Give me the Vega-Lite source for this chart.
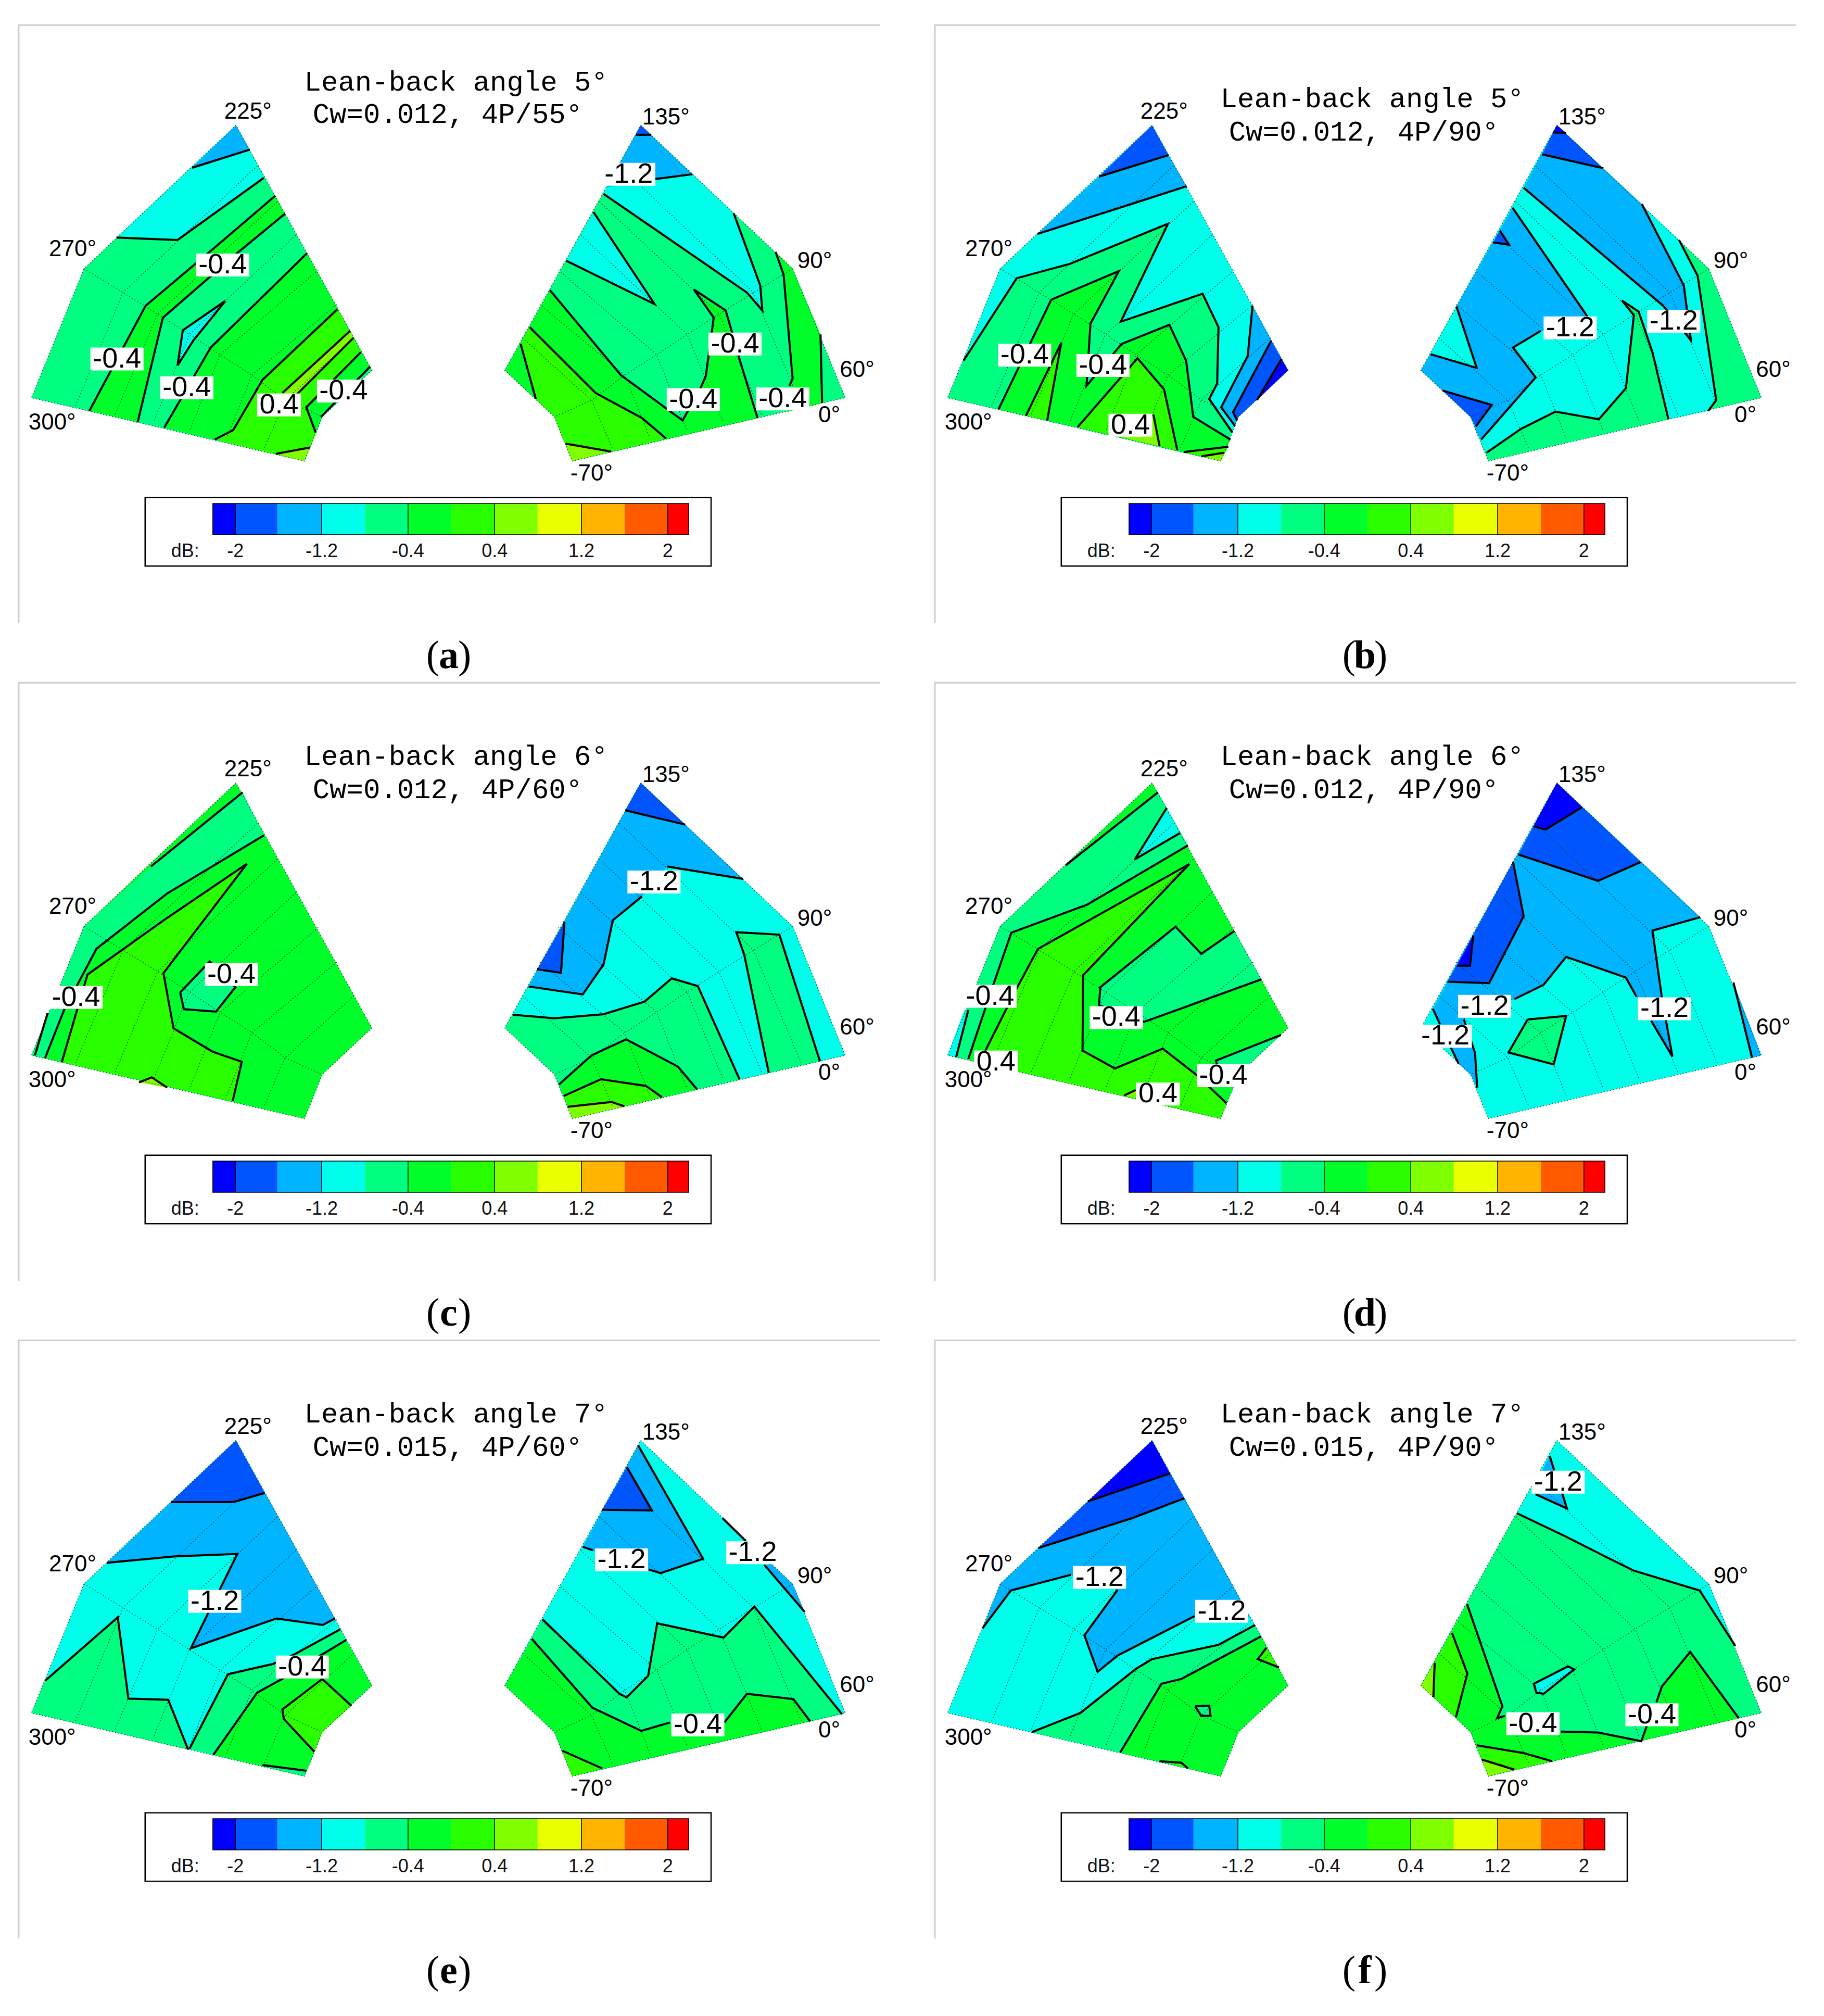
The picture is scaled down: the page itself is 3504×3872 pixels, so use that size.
{"$schema":"https://vega.github.io/schema/vega-lite/v6.json","padding":{"left":28,"top":22,"right":0,"bottom":0},"bounds":"flush","columns":2,"spacing":{"row":0,"column":60},"background":"white","config":{"view":{"stroke":null}},
"data":{"values":[
{"panel":"a","part":"a0","band":"-0.6","x":810,"y":110},{"panel":"a","part":"a0","band":"-0.6","x":238,"y":710},{"panel":"a","part":"a0","band":"-0.6","x":40,"y":1250},{"panel":"a","part":"a0","band":"-0.6","x":1068,"y":1515},{"panel":"a","part":"a0","band":"-0.6","x":1112,"y":1395},{"panel":"a","part":"a0","band":"-0.6","x":1135,"y":1330},{"panel":"a","part":"a0","band":"-0.6","x":1322,"y":1135},
{"panel":"a","part":"a1","band":"-1","x":810,"y":110},{"panel":"a","part":"a1","band":"-1","x":360,"y":580},{"panel":"a","part":"a1","band":"-1","x":590,"y":590},{"panel":"a","part":"a1","band":"-1","x":915,"y":330},
{"panel":"a","part":"a2","band":"-1.4","x":810,"y":110},{"panel":"a","part":"a2","band":"-1.4","x":645,"y":288},{"panel":"a","part":"a2","band":"-1.4","x":862,"y":212},
{"panel":"a","part":"a3","band":"-0.2","x":958,"y":405},{"panel":"a","part":"a3","band":"-0.2","x":700,"y":650},{"panel":"a","part":"a3","band":"-0.2","x":470,"y":865},{"panel":"a","part":"a3","band":"-0.2","x":258,"y":1305},{"panel":"a","part":"a3","band":"-0.2","x":440,"y":1352},{"panel":"a","part":"a3","band":"-0.2","x":535,"y":915},{"panel":"a","part":"a3","band":"-0.2","x":995,"y":480},
{"panel":"a","part":"a4","band":"-1","x":770,"y":845},{"panel":"a","part":"a4","band":"-1","x":610,"y":968},{"panel":"a","part":"a4","band":"-1","x":590,"y":1115},{"panel":"a","part":"a4","band":"-1","x":650,"y":1010},
{"panel":"a","part":"a5","band":"-0.2","x":1078,"y":645},{"panel":"a","part":"a5","band":"-0.2","x":715,"y":1040},{"panel":"a","part":"a5","band":"-0.2","x":540,"y":1375},{"panel":"a","part":"a5","band":"-0.2","x":1068,"y":1515},{"panel":"a","part":"a5","band":"-0.2","x":1112,"y":1395},{"panel":"a","part":"a5","band":"-0.2","x":1135,"y":1330},{"panel":"a","part":"a5","band":"-0.2","x":1322,"y":1135},
{"panel":"a","part":"a6","band":"0.2","x":1192,"y":880},{"panel":"a","part":"a6","band":"0.2","x":910,"y":1175},{"panel":"a","part":"a6","band":"0.2","x":800,"y":1385},{"panel":"a","part":"a6","band":"0.2","x":730,"y":1425},{"panel":"a","part":"a6","band":"0.2","x":1068,"y":1515},{"panel":"a","part":"a6","band":"0.2","x":1112,"y":1395},{"panel":"a","part":"a6","band":"0.2","x":1075,"y":1290},{"panel":"a","part":"a6","band":"0.2","x":1280,"y":1060},
{"panel":"a","part":"a7","band":"0.6","x":1240,"y":970},{"panel":"a","part":"a7","band":"0.6","x":985,"y":1230},{"panel":"a","part":"a7","band":"0.6","x":1040,"y":1235},{"panel":"a","part":"a7","band":"0.6","x":1252,"y":1000},
{"panel":"a","part":"a8","band":"0.6","x":960,"y":1485},{"panel":"a","part":"a8","band":"0.6","x":1088,"y":1458},{"panel":"a","part":"a8","band":"0.6","x":1068,"y":1515},
{"panel":"a","part":"a9","band":"-0.6","x":1315,"y":1120},{"panel":"a","part":"a9","band":"-0.6","x":1322,"y":1135},{"panel":"a","part":"a9","band":"-0.6","x":1135,"y":1330},{"panel":"a","part":"a9","band":"-0.6","x":1130,"y":1320},
{"panel":"a","part":"a10","band":"-0.6","x":2334,"y":110},{"panel":"a","part":"a10","band":"-0.6","x":2906,"y":710},{"panel":"a","part":"a10","band":"-0.6","x":3104,"y":1250},{"panel":"a","part":"a10","band":"-0.6","x":2076,"y":1515},{"panel":"a","part":"a10","band":"-0.6","x":2032,"y":1395},{"panel":"a","part":"a10","band":"-0.6","x":2009,"y":1330},{"panel":"a","part":"a10","band":"-0.6","x":1822,"y":1135},
{"panel":"a","part":"a11","band":"-1","x":2194,"y":397},{"panel":"a","part":"a11","band":"-1","x":2734,"y":810},{"panel":"a","part":"a11","band":"-1","x":2792,"y":885},{"panel":"a","part":"a11","band":"-1","x":2784,"y":780},{"panel":"a","part":"a11","band":"-1","x":2684,"y":478},{"panel":"a","part":"a11","band":"-1","x":2529,"y":315},{"panel":"a","part":"a11","band":"-1","x":2389,"y":335},{"panel":"a","part":"a11","band":"-1","x":2204,"y":370},
{"panel":"a","part":"a12","band":"-1","x":2156,"y":473},{"panel":"a","part":"a12","band":"-1","x":2386,"y":858},{"panel":"a","part":"a12","band":"-1","x":2054,"y":677},
{"panel":"a","part":"a13","band":"-1.4","x":2334,"y":110},{"panel":"a","part":"a13","band":"-1.4","x":2204,"y":370},{"panel":"a","part":"a13","band":"-1.4","x":2389,"y":335},{"panel":"a","part":"a13","band":"-1.4","x":2529,"y":315},
{"panel":"a","part":"a14","band":"-1.8","x":2334,"y":110},{"panel":"a","part":"a14","band":"-1.8","x":2316,"y":148},{"panel":"a","part":"a14","band":"-1.8","x":2374,"y":150},
{"panel":"a","part":"a15","band":"-0.2","x":1992,"y":800},{"panel":"a","part":"a15","band":"-0.2","x":2259,"y":1155},{"panel":"a","part":"a15","band":"-0.2","x":2492,"y":1345},{"panel":"a","part":"a15","band":"-0.2","x":2559,"y":1210},{"panel":"a","part":"a15","band":"-0.2","x":2579,"y":1160},{"panel":"a","part":"a15","band":"-0.2","x":2609,"y":915},{"panel":"a","part":"a15","band":"-0.2","x":2534,"y":797},{"panel":"a","part":"a15","band":"-0.2","x":2654,"y":885},{"panel":"a","part":"a15","band":"-0.2","x":2679,"y":980},{"panel":"a","part":"a15","band":"-0.2","x":2709,"y":1100},{"panel":"a","part":"a15","band":"-0.2","x":2774,"y":1335},{"panel":"a","part":"a15","band":"-0.2","x":2076,"y":1515},{"panel":"a","part":"a15","band":"-0.2","x":2032,"y":1395},{"panel":"a","part":"a15","band":"-0.2","x":2009,"y":1330},{"panel":"a","part":"a15","band":"-0.2","x":1822,"y":1135},
{"panel":"a","part":"a16","band":"0.2","x":1916,"y":955},{"panel":"a","part":"a16","band":"0.2","x":2164,"y":1230},{"panel":"a","part":"a16","band":"0.2","x":2339,"y":1335},{"panel":"a","part":"a16","band":"0.2","x":2429,"y":1420},{"panel":"a","part":"a16","band":"0.2","x":2076,"y":1515},{"panel":"a","part":"a16","band":"0.2","x":2032,"y":1395},{"panel":"a","part":"a16","band":"0.2","x":2009,"y":1330},{"panel":"a","part":"a16","band":"0.2","x":1939,"y":1255},{"panel":"a","part":"a16","band":"0.2","x":1882,"y":1025},
{"panel":"a","part":"a17","band":"0.6","x":2051,"y":1442},{"panel":"a","part":"a17","band":"0.6","x":2222,"y":1475},{"panel":"a","part":"a17","band":"0.6","x":2076,"y":1515},
{"panel":"a","part":"a18","band":"-0.2","x":2842,"y":640},{"panel":"a","part":"a18","band":"-0.2","x":2872,"y":735},{"panel":"a","part":"a18","band":"-0.2","x":2906,"y":1170},{"panel":"a","part":"a18","band":"-0.2","x":2894,"y":1200},{"panel":"a","part":"a18","band":"-0.2","x":2884,"y":1310},{"panel":"a","part":"a18","band":"-0.2","x":3017,"y":1272},{"panel":"a","part":"a18","band":"-0.2","x":3011,"y":985},{"panel":"a","part":"a18","band":"-0.2","x":2906,"y":710},
{"panel":"a","line":"1","x":645,"y":288},{"panel":"a","line":"1","x":862,"y":212},
{"panel":"a","line":"2","x":360,"y":580},{"panel":"a","line":"2","x":590,"y":590},{"panel":"a","line":"2","x":915,"y":330},
{"panel":"a","line":"3","x":958,"y":405},{"panel":"a","line":"3","x":700,"y":650},{"panel":"a","line":"3","x":470,"y":865},{"panel":"a","line":"3","x":258,"y":1305},
{"panel":"a","line":"4","x":995,"y":480},{"panel":"a","line":"4","x":820,"y":640},{"panel":"a","line":"4","x":535,"y":915},{"panel":"a","line":"4","x":440,"y":1352},
{"panel":"a","line":"5","x":770,"y":845},{"panel":"a","line":"5","x":610,"y":968},{"panel":"a","line":"5","x":590,"y":1115},{"panel":"a","line":"5","x":650,"y":1010},{"panel":"a","line":"5","x":770,"y":845},
{"panel":"a","line":"6","x":1078,"y":645},{"panel":"a","line":"6","x":715,"y":1040},{"panel":"a","line":"6","x":540,"y":1375},
{"panel":"a","line":"7","x":1192,"y":880},{"panel":"a","line":"7","x":910,"y":1175},{"panel":"a","line":"7","x":800,"y":1385},{"panel":"a","line":"7","x":730,"y":1425},
{"panel":"a","line":"8","x":1240,"y":970},{"panel":"a","line":"8","x":985,"y":1230},
{"panel":"a","line":"9","x":1252,"y":1000},{"panel":"a","line":"9","x":1040,"y":1235},
{"panel":"a","line":"10","x":1280,"y":1060},{"panel":"a","line":"10","x":1075,"y":1290},{"panel":"a","line":"10","x":1110,"y":1395},
{"panel":"a","line":"11","x":1315,"y":1120},{"panel":"a","line":"11","x":1130,"y":1330},
{"panel":"a","line":"12","x":960,"y":1485},{"panel":"a","line":"12","x":1088,"y":1458},
{"panel":"a","line":"13","x":2316,"y":150},{"panel":"a","line":"13","x":2374,"y":150},
{"panel":"a","line":"14","x":2389,"y":335},{"panel":"a","line":"14","x":2529,"y":315},
{"panel":"a","line":"15","x":2194,"y":397},{"panel":"a","line":"15","x":2734,"y":810},{"panel":"a","line":"15","x":2792,"y":885},{"panel":"a","line":"15","x":2784,"y":780},{"panel":"a","line":"15","x":2684,"y":478},
{"panel":"a","line":"16","x":2156,"y":473},{"panel":"a","line":"16","x":2386,"y":858},{"panel":"a","line":"16","x":2054,"y":677},
{"panel":"a","line":"17","x":1992,"y":800},{"panel":"a","line":"17","x":2259,"y":1155},{"panel":"a","line":"17","x":2492,"y":1345},{"panel":"a","line":"17","x":2559,"y":1210},{"panel":"a","line":"17","x":2579,"y":1160},{"panel":"a","line":"17","x":2609,"y":915},{"panel":"a","line":"17","x":2534,"y":797},{"panel":"a","line":"17","x":2654,"y":885},{"panel":"a","line":"17","x":2679,"y":980},{"panel":"a","line":"17","x":2709,"y":1100},{"panel":"a","line":"17","x":2774,"y":1335},
{"panel":"a","line":"18","x":1916,"y":955},{"panel":"a","line":"18","x":2164,"y":1230},{"panel":"a","line":"18","x":2339,"y":1335},{"panel":"a","line":"18","x":2429,"y":1420},
{"panel":"a","line":"19","x":1882,"y":1025},{"panel":"a","line":"19","x":1939,"y":1255},
{"panel":"a","line":"20","x":2051,"y":1442},{"panel":"a","line":"20","x":2222,"y":1475},
{"panel":"a","line":"21","x":2842,"y":640},{"panel":"a","line":"21","x":2872,"y":735},{"panel":"a","line":"21","x":2906,"y":1170},{"panel":"a","line":"21","x":2894,"y":1200},
{"panel":"a","line":"22","x":3011,"y":985},{"panel":"a","line":"22","x":3017,"y":1272},
{"panel":"a","label":"-0.4","x":760,"y":695},{"panel":"a","label":"-0.4","x":362,"y":1088},{"panel":"a","label":"-0.4","x":625,"y":1208},{"panel":"a","label":"0.4","x":972,"y":1280},{"panel":"a","label":"-0.4","x":1215,"y":1222},{"panel":"a","label":"-1.2","x":2289,"y":315},{"panel":"a","label":"-0.4","x":2689,"y":1025},{"panel":"a","label":"-0.4","x":2532,"y":1258},{"panel":"a","label":"-0.4","x":2869,"y":1255},
{"panel":"a","title":"Lean-back angle 5°","x":1639,"y":-70},{"panel":"a","title":"Cw=0.012, 4P/55°","x":1607,"y":65},{"panel":"a","caption":"a","x":1611,"y":2330},

{"panel":"b","part":"b0","band":"-1","x":810,"y":110},{"panel":"b","part":"b0","band":"-1","x":238,"y":710},{"panel":"b","part":"b0","band":"-1","x":40,"y":1250},{"panel":"b","part":"b0","band":"-1","x":1068,"y":1515},{"panel":"b","part":"b0","band":"-1","x":1112,"y":1395},{"panel":"b","part":"b0","band":"-1","x":1135,"y":1330},{"panel":"b","part":"b0","band":"-1","x":1322,"y":1135},
{"panel":"b","part":"b1","band":"-1.4","x":610,"y":325},{"panel":"b","part":"b1","band":"-1.4","x":378,"y":565},{"panel":"b","part":"b1","band":"-1.4","x":745,"y":435},{"panel":"b","part":"b1","band":"-1.4","x":940,"y":365},{"panel":"b","part":"b1","band":"-1.4","x":872,"y":235},
{"panel":"b","part":"b2","band":"-1.8","x":810,"y":110},{"panel":"b","part":"b2","band":"-1.8","x":610,"y":325},{"panel":"b","part":"b2","band":"-1.8","x":872,"y":235},
{"panel":"b","part":"b3","band":"-0.6","x":100,"y":1095},{"panel":"b","part":"b3","band":"-0.6","x":300,"y":750},{"panel":"b","part":"b3","band":"-0.6","x":500,"y":690},{"panel":"b","part":"b3","band":"-0.6","x":870,"y":522},{"panel":"b","part":"b3","band":"-0.6","x":692,"y":932},{"panel":"b","part":"b3","band":"-0.6","x":1000,"y":815},{"panel":"b","part":"b3","band":"-0.6","x":1060,"y":955},{"panel":"b","part":"b3","band":"-0.6","x":1055,"y":1190},{"panel":"b","part":"b3","band":"-0.6","x":1025,"y":1255},{"panel":"b","part":"b3","band":"-0.6","x":1112,"y":1395},{"panel":"b","part":"b3","band":"-0.6","x":1068,"y":1515},{"panel":"b","part":"b3","band":"-0.6","x":40,"y":1250},
{"panel":"b","part":"b4","band":"-1.4","x":1188,"y":865},{"panel":"b","part":"b4","band":"-1.4","x":1170,"y":1075},{"panel":"b","part":"b4","band":"-1.4","x":1070,"y":1290},{"panel":"b","part":"b4","band":"-1.4","x":1122,"y":1368},{"panel":"b","part":"b4","band":"-1.4","x":1135,"y":1330},{"panel":"b","part":"b4","band":"-1.4","x":1322,"y":1135},
{"panel":"b","part":"b5","band":"-1.8","x":1258,"y":1012},{"panel":"b","part":"b5","band":"-1.8","x":1115,"y":1310},{"panel":"b","part":"b5","band":"-1.8","x":1130,"y":1345},{"panel":"b","part":"b5","band":"-1.8","x":1135,"y":1330},{"panel":"b","part":"b5","band":"-1.8","x":1322,"y":1135},
{"panel":"b","part":"b6","band":"-2.2","x":1297,"y":1088},{"panel":"b","part":"b6","band":"-2.2","x":1205,"y":1260},{"panel":"b","part":"b6","band":"-2.2","x":1322,"y":1135},
{"panel":"b","part":"b7","band":"-0.2","x":232,"y":1298},{"panel":"b","part":"b7","band":"-0.2","x":430,"y":840},{"panel":"b","part":"b7","band":"-0.2","x":685,"y":720},{"panel":"b","part":"b7","band":"-0.2","x":578,"y":940},{"panel":"b","part":"b7","band":"-0.2","x":570,"y":1080},{"panel":"b","part":"b7","band":"-0.2","x":563,"y":1200},{"panel":"b","part":"b7","band":"-0.2","x":665,"y":1065},{"panel":"b","part":"b7","band":"-0.2","x":695,"y":1025},{"panel":"b","part":"b7","band":"-0.2","x":875,"y":945},{"panel":"b","part":"b7","band":"-0.2","x":938,"y":1095},{"panel":"b","part":"b7","band":"-0.2","x":965,"y":1330},{"panel":"b","part":"b7","band":"-0.2","x":1105,"y":1425},{"panel":"b","part":"b7","band":"-0.2","x":1068,"y":1515},
{"panel":"b","part":"b8","band":"0.2","x":468,"y":1020},{"panel":"b","part":"b8","band":"0.2","x":335,"y":1325},{"panel":"b","part":"b8","band":"0.2","x":415,"y":1345},
{"panel":"b","part":"b9","band":"0.2","x":530,"y":1372},{"panel":"b","part":"b9","band":"0.2","x":755,"y":1085},{"panel":"b","part":"b9","band":"0.2","x":855,"y":1215},{"panel":"b","part":"b9","band":"0.2","x":905,"y":1470},
{"panel":"b","part":"b10","band":"0.6","x":815,"y":1320},{"panel":"b","part":"b10","band":"0.6","x":838,"y":1452},{"panel":"b","part":"b10","band":"0.6","x":650,"y":1403},{"panel":"b","part":"b10","band":"0.6","x":650,"y":1330},
{"panel":"b","part":"b11","band":"0.2","x":930,"y":1477},{"panel":"b","part":"b11","band":"0.2","x":1097,"y":1455},{"panel":"b","part":"b11","band":"0.2","x":1068,"y":1515},
{"panel":"b","part":"b12","band":"0.6","x":995,"y":1495},{"panel":"b","part":"b12","band":"0.6","x":1082,"y":1480},{"panel":"b","part":"b12","band":"0.6","x":1068,"y":1515},
{"panel":"b","part":"b13","band":"-0.6","x":2334,"y":110},{"panel":"b","part":"b13","band":"-0.6","x":2906,"y":710},{"panel":"b","part":"b13","band":"-0.6","x":3104,"y":1250},{"panel":"b","part":"b13","band":"-0.6","x":2076,"y":1515},{"panel":"b","part":"b13","band":"-0.6","x":2032,"y":1395},{"panel":"b","part":"b13","band":"-0.6","x":2009,"y":1330},{"panel":"b","part":"b13","band":"-0.6","x":1822,"y":1135},
{"panel":"b","part":"b14","band":"-1","x":2794,"y":590},{"panel":"b","part":"b14","band":"-1","x":2864,"y":740},{"panel":"b","part":"b14","band":"-1","x":2934,"y":1260},{"panel":"b","part":"b14","band":"-1","x":2904,"y":1305},{"panel":"b","part":"b14","band":"-1","x":2754,"y":1340},{"panel":"b","part":"b14","band":"-1","x":2694,"y":1060},{"panel":"b","part":"b14","band":"-1","x":2642,"y":890},{"panel":"b","part":"b14","band":"-1","x":2579,"y":843},{"panel":"b","part":"b14","band":"-1","x":2624,"y":905},{"panel":"b","part":"b14","band":"-1","x":2594,"y":1210},{"panel":"b","part":"b14","band":"-1","x":2492,"y":1340},{"panel":"b","part":"b14","band":"-1","x":2329,"y":1308},{"panel":"b","part":"b14","band":"-1","x":2199,"y":1380},{"panel":"b","part":"b14","band":"-1","x":2069,"y":1480},{"panel":"b","part":"b14","band":"-1","x":2032,"y":1395},{"panel":"b","part":"b14","band":"-1","x":2009,"y":1330},{"panel":"b","part":"b14","band":"-1","x":1822,"y":1135},{"panel":"b","part":"b14","band":"-1","x":2334,"y":110},
{"panel":"b","part":"b15","band":"-1.4","x":2334,"y":110},{"panel":"b","part":"b15","band":"-1.4","x":2654,"y":440},{"panel":"b","part":"b15","band":"-1.4","x":2812,"y":780},{"panel":"b","part":"b15","band":"-1.4","x":2826,"y":900},{"panel":"b","part":"b15","band":"-1.4","x":2839,"y":1010},{"panel":"b","part":"b15","band":"-1.4","x":2814,"y":975},{"panel":"b","part":"b15","band":"-1.4","x":2734,"y":865},{"panel":"b","part":"b15","band":"-1.4","x":2209,"y":372},
{"panel":"b","part":"b16","band":"-1.8","x":2334,"y":110},{"panel":"b","part":"b16","band":"-1.8","x":2279,"y":232},{"panel":"b","part":"b16","band":"-1.8","x":2509,"y":290},
{"panel":"b","part":"b17","band":"-2.2","x":2334,"y":110},{"panel":"b","part":"b17","band":"-2.2","x":2322,"y":135},{"panel":"b","part":"b17","band":"-2.2","x":2369,"y":142},
{"panel":"b","part":"b18","band":"-1.4","x":2167,"y":455},{"panel":"b","part":"b18","band":"-1.4","x":2449,"y":910},{"panel":"b","part":"b18","band":"-1.4","x":2384,"y":960},{"panel":"b","part":"b18","band":"-1.4","x":2274,"y":970},{"panel":"b","part":"b18","band":"-1.4","x":2169,"y":1040},{"panel":"b","part":"b18","band":"-1.4","x":2254,"y":1165},{"panel":"b","part":"b18","band":"-1.4","x":2049,"y":1425},{"panel":"b","part":"b18","band":"-1.4","x":2032,"y":1395},{"panel":"b","part":"b18","band":"-1.4","x":2009,"y":1330},{"panel":"b","part":"b18","band":"-1.4","x":1822,"y":1135},{"panel":"b","part":"b18","band":"-1.4","x":1859,"y":1068},{"panel":"b","part":"b18","band":"-1.4","x":2032,"y":1125},{"panel":"b","part":"b18","band":"-1.4","x":1956,"y":868},
{"panel":"b","part":"b19","band":"-1.8","x":2119,"y":550},{"panel":"b","part":"b19","band":"-1.8","x":2154,"y":610},{"panel":"b","part":"b19","band":"-1.8","x":2094,"y":600},
{"panel":"b","part":"b20","band":"-1.8","x":1904,"y":1220},{"panel":"b","part":"b20","band":"-1.8","x":2089,"y":1280},{"panel":"b","part":"b20","band":"-1.8","x":2029,"y":1370},{"panel":"b","part":"b20","band":"-1.8","x":2009,"y":1330},
{"panel":"b","line":"1","x":610,"y":325},{"panel":"b","line":"1","x":872,"y":235},
{"panel":"b","line":"2","x":378,"y":565},{"panel":"b","line":"2","x":745,"y":435},{"panel":"b","line":"2","x":940,"y":365},
{"panel":"b","line":"3","x":100,"y":1095},{"panel":"b","line":"3","x":300,"y":750},{"panel":"b","line":"3","x":500,"y":690},{"panel":"b","line":"3","x":870,"y":522},{"panel":"b","line":"3","x":692,"y":932},{"panel":"b","line":"3","x":1000,"y":815},{"panel":"b","line":"3","x":1060,"y":955},{"panel":"b","line":"3","x":1055,"y":1190},{"panel":"b","line":"3","x":1025,"y":1255},{"panel":"b","line":"3","x":1112,"y":1395},
{"panel":"b","line":"4","x":1188,"y":865},{"panel":"b","line":"4","x":1170,"y":1075},{"panel":"b","line":"4","x":1070,"y":1290},{"panel":"b","line":"4","x":1122,"y":1368},
{"panel":"b","line":"5","x":1258,"y":1012},{"panel":"b","line":"5","x":1115,"y":1310},{"panel":"b","line":"5","x":1130,"y":1345},
{"panel":"b","line":"6","x":1297,"y":1088},{"panel":"b","line":"6","x":1205,"y":1260},
{"panel":"b","line":"7","x":232,"y":1298},{"panel":"b","line":"7","x":430,"y":840},{"panel":"b","line":"7","x":685,"y":720},{"panel":"b","line":"7","x":578,"y":940},{"panel":"b","line":"7","x":570,"y":1080},{"panel":"b","line":"7","x":563,"y":1200},{"panel":"b","line":"7","x":665,"y":1065},{"panel":"b","line":"7","x":695,"y":1025},{"panel":"b","line":"7","x":875,"y":945},{"panel":"b","line":"7","x":938,"y":1095},{"panel":"b","line":"7","x":965,"y":1330},{"panel":"b","line":"7","x":1105,"y":1425},
{"panel":"b","line":"8","x":335,"y":1325},{"panel":"b","line":"8","x":468,"y":1020},{"panel":"b","line":"8","x":415,"y":1345},
{"panel":"b","line":"9","x":530,"y":1372},{"panel":"b","line":"9","x":755,"y":1085},{"panel":"b","line":"9","x":855,"y":1215},{"panel":"b","line":"9","x":905,"y":1470},
{"panel":"b","line":"10","x":815,"y":1320},{"panel":"b","line":"10","x":838,"y":1452},
{"panel":"b","line":"11","x":930,"y":1477},{"panel":"b","line":"11","x":1097,"y":1455},
{"panel":"b","line":"12","x":995,"y":1495},{"panel":"b","line":"12","x":1082,"y":1480},
{"panel":"b","line":"13","x":2279,"y":232},{"panel":"b","line":"13","x":2509,"y":290},
{"panel":"b","line":"14","x":2319,"y":140},{"panel":"b","line":"14","x":2369,"y":142},
{"panel":"b","line":"15","x":2209,"y":372},{"panel":"b","line":"15","x":2734,"y":865},{"panel":"b","line":"15","x":2814,"y":975},{"panel":"b","line":"15","x":2839,"y":1010},{"panel":"b","line":"15","x":2826,"y":900},{"panel":"b","line":"15","x":2812,"y":780},{"panel":"b","line":"15","x":2654,"y":440},
{"panel":"b","line":"16","x":2167,"y":455},{"panel":"b","line":"16","x":2449,"y":910},
{"panel":"b","line":"17","x":2274,"y":970},{"panel":"b","line":"17","x":2169,"y":1040},{"panel":"b","line":"17","x":2254,"y":1165},{"panel":"b","line":"17","x":2049,"y":1425},
{"panel":"b","line":"18","x":1956,"y":868},{"panel":"b","line":"18","x":2032,"y":1125},{"panel":"b","line":"18","x":1859,"y":1068},
{"panel":"b","line":"19","x":2119,"y":550},{"panel":"b","line":"19","x":2154,"y":610},{"panel":"b","line":"19","x":2094,"y":600},
{"panel":"b","line":"20","x":1904,"y":1220},{"panel":"b","line":"20","x":2089,"y":1280},{"panel":"b","line":"20","x":2029,"y":1370},
{"panel":"b","line":"21","x":2069,"y":1480},{"panel":"b","line":"21","x":2199,"y":1380},{"panel":"b","line":"21","x":2329,"y":1308},{"panel":"b","line":"21","x":2492,"y":1340},{"panel":"b","line":"21","x":2594,"y":1210},{"panel":"b","line":"21","x":2624,"y":905},{"panel":"b","line":"21","x":2579,"y":843},{"panel":"b","line":"21","x":2642,"y":890},{"panel":"b","line":"21","x":2694,"y":1060},{"panel":"b","line":"21","x":2754,"y":1340},
{"panel":"b","line":"22","x":2794,"y":590},{"panel":"b","line":"22","x":2864,"y":740},{"panel":"b","line":"22","x":2934,"y":1260},{"panel":"b","line":"22","x":2904,"y":1305},
{"panel":"b","label":"-0.4","x":330,"y":1072},{"panel":"b","label":"-0.4","x":625,"y":1115},{"panel":"b","label":"0.4","x":728,"y":1365},{"panel":"b","label":"-1.2","x":2384,"y":958},{"panel":"b","label":"-1.2","x":2774,"y":930},
{"panel":"b","title":"Lean-back angle 5°","x":1639,"y":0},{"panel":"b","title":"Cw=0.012, 4P/90°","x":1607,"y":140},{"panel":"b","caption":"b","x":1611,"y":2330},

{"panel":"c","part":"c0","band":"-0.2","x":810,"y":110},{"panel":"c","part":"c0","band":"-0.2","x":238,"y":710},{"panel":"c","part":"c0","band":"-0.2","x":40,"y":1250},{"panel":"c","part":"c0","band":"-0.2","x":1068,"y":1515},{"panel":"c","part":"c0","band":"-0.2","x":1112,"y":1395},{"panel":"c","part":"c0","band":"-0.2","x":1135,"y":1330},{"panel":"c","part":"c0","band":"-0.2","x":1322,"y":1135},
{"panel":"c","part":"c1","band":"-0.6","x":835,"y":150},{"panel":"c","part":"c1","band":"-0.6","x":490,"y":460},{"panel":"c","part":"c1","band":"-0.6","x":238,"y":710},{"panel":"c","part":"c1","band":"-0.6","x":40,"y":1250},{"panel":"c","part":"c1","band":"-0.6","x":91,"y":1262},{"panel":"c","part":"c1","band":"-0.6","x":164,"y":1057},{"panel":"c","part":"c1","band":"-0.6","x":285,"y":804},{"panel":"c","part":"c1","band":"-0.6","x":551,"y":573},{"panel":"c","part":"c1","band":"-0.6","x":915,"y":330},
{"panel":"c","part":"c2","band":"0.2","x":154,"y":1279},{"panel":"c","part":"c2","band":"0.2","x":251,"y":912},{"panel":"c","part":"c2","band":"0.2","x":537,"y":686},{"panel":"c","part":"c2","band":"0.2","x":851,"y":449},{"panel":"c","part":"c2","band":"0.2","x":537,"y":906},{"panel":"c","part":"c2","band":"0.2","x":575,"y":1137},{"panel":"c","part":"c2","band":"0.2","x":721,"y":1234},{"panel":"c","part":"c2","band":"0.2","x":832,"y":1277},{"panel":"c","part":"c2","band":"0.2","x":798,"y":1440},
{"panel":"c","part":"c3","band":"-0.6","x":600,"y":987},{"panel":"c","part":"c3","band":"-0.6","x":711,"y":858},{"panel":"c","part":"c3","band":"-0.6","x":808,"y":965},{"panel":"c","part":"c3","band":"-0.6","x":735,"y":1067},{"panel":"c","part":"c3","band":"-0.6","x":614,"y":1057},
{"panel":"c","part":"c4","band":"0.6","x":445,"y":1363},{"panel":"c","part":"c4","band":"0.6","x":493,"y":1342},{"panel":"c","part":"c4","band":"0.6","x":551,"y":1385},
{"panel":"c","part":"c5","band":"-0.6","x":2334,"y":110},{"panel":"c","part":"c5","band":"-0.6","x":2906,"y":710},{"panel":"c","part":"c5","band":"-0.6","x":3104,"y":1250},{"panel":"c","part":"c5","band":"-0.6","x":2076,"y":1515},{"panel":"c","part":"c5","band":"-0.6","x":2032,"y":1395},{"panel":"c","part":"c5","band":"-0.6","x":2009,"y":1330},{"panel":"c","part":"c5","band":"-0.6","x":1822,"y":1135},
{"panel":"c","part":"c6","band":"-1","x":1852,"y":1080},{"panel":"c","part":"c6","band":"-1","x":2009,"y":1095},{"panel":"c","part":"c6","band":"-1","x":2194,"y":1078},{"panel":"c","part":"c6","band":"-1","x":2349,"y":1025},{"panel":"c","part":"c6","band":"-1","x":2451,"y":928},{"panel":"c","part":"c6","band":"-1","x":2549,"y":960},{"panel":"c","part":"c6","band":"-1","x":2706,"y":1350},{"panel":"c","part":"c6","band":"-1","x":3104,"y":1250},{"panel":"c","part":"c6","band":"-1","x":2906,"y":710},{"panel":"c","part":"c6","band":"-1","x":2334,"y":110},
{"panel":"c","part":"c7","band":"-0.6","x":2694,"y":735},{"panel":"c","part":"c7","band":"-0.6","x":2856,"y":745},{"panel":"c","part":"c7","band":"-0.6","x":3009,"y":1275},{"panel":"c","part":"c7","band":"-0.6","x":2816,"y":1322},{"panel":"c","part":"c7","band":"-0.6","x":2724,"y":830},
{"panel":"c","part":"c8","band":"-1.4","x":1912,"y":962},{"panel":"c","part":"c8","band":"-1.4","x":2116,"y":995},{"panel":"c","part":"c8","band":"-1.4","x":2194,"y":870},{"panel":"c","part":"c8","band":"-1.4","x":2229,"y":685},{"panel":"c","part":"c8","band":"-1.4","x":2339,"y":585},{"panel":"c","part":"c8","band":"-1.4","x":2384,"y":530},{"panel":"c","part":"c8","band":"-1.4","x":2434,"y":460},{"panel":"c","part":"c8","band":"-1.4","x":2719,"y":512},{"panel":"c","part":"c8","band":"-1.4","x":2334,"y":110},
{"panel":"c","part":"c9","band":"-1.8","x":2334,"y":110},{"panel":"c","part":"c9","band":"-1.8","x":2276,"y":225},{"panel":"c","part":"c9","band":"-1.8","x":2502,"y":285},
{"panel":"c","part":"c10","band":"-1.8","x":2047,"y":692},{"panel":"c","part":"c10","band":"-1.8","x":2034,"y":905},{"panel":"c","part":"c10","band":"-1.8","x":1944,"y":890},
{"panel":"c","part":"c11","band":"-0.2","x":2026,"y":1372},{"panel":"c","part":"c11","band":"-0.2","x":2149,"y":1250},{"panel":"c","part":"c11","band":"-0.2","x":2279,"y":1183},{"panel":"c","part":"c11","band":"-0.2","x":2474,"y":1297},{"panel":"c","part":"c11","band":"-0.2","x":2546,"y":1392},{"panel":"c","part":"c11","band":"-0.2","x":2076,"y":1515},
{"panel":"c","part":"c12","band":"0.2","x":2044,"y":1420},{"panel":"c","part":"c12","band":"0.2","x":2184,"y":1350},{"panel":"c","part":"c12","band":"0.2","x":2354,"y":1378},{"panel":"c","part":"c12","band":"0.2","x":2414,"y":1425},{"panel":"c","part":"c12","band":"0.2","x":2076,"y":1515},
{"panel":"c","part":"c13","band":"0.6","x":2059,"y":1465},{"panel":"c","part":"c13","band":"0.6","x":2224,"y":1445},{"panel":"c","part":"c13","band":"0.6","x":2272,"y":1463},{"panel":"c","part":"c13","band":"0.6","x":2076,"y":1515},
{"panel":"c","line":"1","x":835,"y":150},{"panel":"c","line":"1","x":490,"y":460},
{"panel":"c","line":"2","x":91,"y":1262},{"panel":"c","line":"2","x":164,"y":1057},{"panel":"c","line":"2","x":285,"y":804},{"panel":"c","line":"2","x":551,"y":573},{"panel":"c","line":"2","x":915,"y":330},
{"panel":"c","line":"3","x":154,"y":1279},{"panel":"c","line":"3","x":251,"y":912},{"panel":"c","line":"3","x":537,"y":686},{"panel":"c","line":"3","x":851,"y":449},{"panel":"c","line":"3","x":537,"y":906},{"panel":"c","line":"3","x":575,"y":1137},{"panel":"c","line":"3","x":721,"y":1234},{"panel":"c","line":"3","x":832,"y":1277},{"panel":"c","line":"3","x":798,"y":1440},
{"panel":"c","line":"4","x":600,"y":987},{"panel":"c","line":"4","x":711,"y":858},{"panel":"c","line":"4","x":808,"y":965},{"panel":"c","line":"4","x":735,"y":1067},{"panel":"c","line":"4","x":614,"y":1057},{"panel":"c","line":"4","x":600,"y":987},
{"panel":"c","line":"5","x":445,"y":1363},{"panel":"c","line":"5","x":493,"y":1342},{"panel":"c","line":"5","x":551,"y":1385},
{"panel":"c","line":"6","x":101,"y":1073},{"panel":"c","line":"6","x":53,"y":1250},
{"panel":"c","line":"7","x":2276,"y":225},{"panel":"c","line":"7","x":2502,"y":285},
{"panel":"c","line":"8","x":2434,"y":460},{"panel":"c","line":"8","x":2719,"y":512},
{"panel":"c","line":"9","x":1912,"y":962},{"panel":"c","line":"9","x":2116,"y":995},{"panel":"c","line":"9","x":2194,"y":870},{"panel":"c","line":"9","x":2229,"y":685},{"panel":"c","line":"9","x":2339,"y":585},
{"panel":"c","line":"10","x":2047,"y":692},{"panel":"c","line":"10","x":2034,"y":905},{"panel":"c","line":"10","x":1944,"y":890},
{"panel":"c","line":"11","x":1852,"y":1080},{"panel":"c","line":"11","x":2009,"y":1095},{"panel":"c","line":"11","x":2194,"y":1078},{"panel":"c","line":"11","x":2349,"y":1025},{"panel":"c","line":"11","x":2451,"y":928},{"panel":"c","line":"11","x":2549,"y":960},{"panel":"c","line":"11","x":2706,"y":1350},
{"panel":"c","line":"12","x":2816,"y":1322},{"panel":"c","line":"12","x":2724,"y":830},{"panel":"c","line":"12","x":2694,"y":735},{"panel":"c","line":"12","x":2856,"y":745},{"panel":"c","line":"12","x":3009,"y":1275},
{"panel":"c","line":"13","x":2026,"y":1372},{"panel":"c","line":"13","x":2149,"y":1250},{"panel":"c","line":"13","x":2279,"y":1183},{"panel":"c","line":"13","x":2474,"y":1297},{"panel":"c","line":"13","x":2546,"y":1392},
{"panel":"c","line":"14","x":2044,"y":1420},{"panel":"c","line":"14","x":2184,"y":1350},{"panel":"c","line":"14","x":2354,"y":1378},{"panel":"c","line":"14","x":2414,"y":1425},
{"panel":"c","line":"15","x":2059,"y":1465},{"panel":"c","line":"15","x":2224,"y":1445},{"panel":"c","line":"15","x":2272,"y":1463},
{"panel":"c","label":"-0.4","x":793,"y":912},{"panel":"c","label":"-0.4","x":208,"y":1008},{"panel":"c","label":"-1.2","x":2384,"y":525},
{"panel":"c","title":"Lean-back angle 6°","x":1639,"y":0},{"panel":"c","title":"Cw=0.012, 4P/60°","x":1607,"y":140},{"panel":"c","caption":"c","x":1611,"y":2330},

{"panel":"d","part":"d0","band":"-0.2","x":810,"y":110},{"panel":"d","part":"d0","band":"-0.2","x":238,"y":710},{"panel":"d","part":"d0","band":"-0.2","x":40,"y":1250},{"panel":"d","part":"d0","band":"-0.2","x":1068,"y":1515},{"panel":"d","part":"d0","band":"-0.2","x":1112,"y":1395},{"panel":"d","part":"d0","band":"-0.2","x":1135,"y":1330},{"panel":"d","part":"d0","band":"-0.2","x":1322,"y":1135},
{"panel":"d","part":"d1","band":"-0.6","x":832,"y":150},{"panel":"d","part":"d1","band":"-0.6","x":485,"y":455},{"panel":"d","part":"d1","band":"-0.6","x":238,"y":710},{"panel":"d","part":"d1","band":"-0.6","x":40,"y":1250},{"panel":"d","part":"d1","band":"-0.6","x":115,"y":1267},{"panel":"d","part":"d1","band":"-0.6","x":180,"y":1060},{"panel":"d","part":"d1","band":"-0.6","x":215,"y":945},{"panel":"d","part":"d1","band":"-0.6","x":280,"y":737},{"panel":"d","part":"d1","band":"-0.6","x":565,"y":620},{"panel":"d","part":"d1","band":"-0.6","x":945,"y":372},
{"panel":"d","part":"d2","band":"-1","x":40,"y":1250},{"panel":"d","part":"d2","band":"-1","x":72,"y":1258},{"panel":"d","part":"d2","band":"-1","x":115,"y":1060},{"panel":"d","part":"d2","band":"-1","x":103,"y":1060},
{"panel":"d","part":"d3","band":"-1","x":865,"y":215},{"panel":"d","part":"d3","band":"-1","x":745,"y":430},{"panel":"d","part":"d3","band":"-1","x":915,"y":320},
{"panel":"d","part":"d4","band":"0.2","x":950,"y":450},{"panel":"d","part":"d4","band":"0.2","x":380,"y":805},{"panel":"d","part":"d4","band":"0.2","x":300,"y":970},{"panel":"d","part":"d4","band":"0.2","x":180,"y":1235},{"panel":"d","part":"d4","band":"0.2","x":180,"y":1286},{"panel":"d","part":"d4","band":"0.2","x":1068,"y":1515},{"panel":"d","part":"d4","band":"0.2","x":1090,"y":1450},{"panel":"d","part":"d4","band":"0.2","x":975,"y":1330},{"panel":"d","part":"d4","band":"0.2","x":850,"y":1222},{"panel":"d","part":"d4","band":"0.2","x":670,"y":1305},{"panel":"d","part":"d4","band":"0.2","x":548,"y":1230},{"panel":"d","part":"d4","band":"0.2","x":550,"y":915},
{"panel":"d","part":"d5","band":"-0.6","x":1295,"y":1165},{"panel":"d","part":"d5","band":"-0.6","x":1050,"y":1272},{"panel":"d","part":"d5","band":"-0.6","x":1060,"y":1350},{"panel":"d","part":"d5","band":"-0.6","x":1165,"y":1300},
{"panel":"d","part":"d6","band":"-0.6","x":1120,"y":730},{"panel":"d","part":"d6","band":"-0.6","x":995,"y":825},{"panel":"d","part":"d6","band":"-0.6","x":898,"y":712},{"panel":"d","part":"d6","band":"-0.6","x":615,"y":965},{"panel":"d","part":"d6","band":"-0.6","x":610,"y":1040},{"panel":"d","part":"d6","band":"-0.6","x":780,"y":1110},{"panel":"d","part":"d6","band":"-0.6","x":1222,"y":932},
{"panel":"d","part":"d7","band":"0.6","x":705,"y":1418},{"panel":"d","part":"d7","band":"0.6","x":748,"y":1395},{"panel":"d","part":"d7","band":"0.6","x":748,"y":1427},
{"panel":"d","part":"d8","band":"-1","x":2334,"y":110},{"panel":"d","part":"d8","band":"-1","x":2906,"y":710},{"panel":"d","part":"d8","band":"-1","x":3104,"y":1250},{"panel":"d","part":"d8","band":"-1","x":2076,"y":1515},{"panel":"d","part":"d8","band":"-1","x":2032,"y":1395},{"panel":"d","part":"d8","band":"-1","x":2009,"y":1330},{"panel":"d","part":"d8","band":"-1","x":1822,"y":1135},
{"panel":"d","part":"d9","band":"-1.4","x":2334,"y":110},{"panel":"d","part":"d9","band":"-1.4","x":2874,"y":672},{"panel":"d","part":"d9","band":"-1.4","x":2694,"y":728},{"panel":"d","part":"d9","band":"-1.4","x":2729,"y":1005},{"panel":"d","part":"d9","band":"-1.4","x":2769,"y":1255},{"panel":"d","part":"d9","band":"-1.4","x":2689,"y":1105},{"panel":"d","part":"d9","band":"-1.4","x":2634,"y":1005},{"panel":"d","part":"d9","band":"-1.4","x":2594,"y":925},{"panel":"d","part":"d9","band":"-1.4","x":2369,"y":838},{"panel":"d","part":"d9","band":"-1.4","x":2284,"y":955},{"panel":"d","part":"d9","band":"-1.4","x":2174,"y":1015},{"panel":"d","part":"d9","band":"-1.4","x":2064,"y":1050},{"panel":"d","part":"d9","band":"-1.4","x":1984,"y":1100},{"panel":"d","part":"d9","band":"-1.4","x":2026,"y":1240},{"panel":"d","part":"d9","band":"-1.4","x":2034,"y":1385},{"panel":"d","part":"d9","band":"-1.4","x":2009,"y":1330},{"panel":"d","part":"d9","band":"-1.4","x":1964,"y":1285},{"panel":"d","part":"d9","band":"-1.4","x":1934,"y":1215},{"panel":"d","part":"d9","band":"-1.4","x":1894,"y":1120},{"panel":"d","part":"d9","band":"-1.4","x":1867,"y":1055},
{"panel":"d","part":"d10","band":"-1.8","x":2334,"y":110},{"panel":"d","part":"d10","band":"-1.8","x":2649,"y":442},{"panel":"d","part":"d10","band":"-1.8","x":2489,"y":520},{"panel":"d","part":"d10","band":"-1.8","x":2189,"y":410},
{"panel":"d","part":"d11","band":"-1.8","x":2169,"y":440},{"panel":"d","part":"d11","band":"-1.8","x":2209,"y":668},{"panel":"d","part":"d11","band":"-1.8","x":2079,"y":948},{"panel":"d","part":"d11","band":"-1.8","x":1922,"y":942},
{"panel":"d","part":"d12","band":"-2.2","x":2334,"y":110},{"panel":"d","part":"d12","band":"-2.2","x":2429,"y":212},{"panel":"d","part":"d12","band":"-2.2","x":2292,"y":305},{"panel":"d","part":"d12","band":"-2.2","x":2246,"y":292},
{"panel":"d","part":"d13","band":"-2.2","x":2019,"y":750},{"panel":"d","part":"d13","band":"-2.2","x":2007,"y":875},{"panel":"d","part":"d13","band":"-2.2","x":1959,"y":875},
{"panel":"d","part":"d14","band":"-1.4","x":2999,"y":945},{"panel":"d","part":"d14","band":"-1.4","x":3069,"y":1260},{"panel":"d","part":"d14","band":"-1.4","x":3104,"y":1250},
{"panel":"d","part":"d15","band":"-0.6","x":2224,"y":1100},{"panel":"d","part":"d15","band":"-0.6","x":2369,"y":1085},{"panel":"d","part":"d15","band":"-0.6","x":2322,"y":1288},{"panel":"d","part":"d15","band":"-0.6","x":2152,"y":1238},
{"panel":"d","line":"1","x":832,"y":150},{"panel":"d","line":"1","x":485,"y":455},
{"panel":"d","line":"2","x":865,"y":215},{"panel":"d","line":"2","x":745,"y":430},{"panel":"d","line":"2","x":915,"y":320},
{"panel":"d","line":"3","x":118,"y":1265},{"panel":"d","line":"3","x":180,"y":1060},{"panel":"d","line":"3","x":215,"y":945},{"panel":"d","line":"3","x":280,"y":737},{"panel":"d","line":"3","x":565,"y":620},{"panel":"d","line":"3","x":945,"y":372},
{"panel":"d","line":"4","x":72,"y":1258},{"panel":"d","line":"4","x":118,"y":1060},
{"panel":"d","line":"5","x":180,"y":1235},{"panel":"d","line":"5","x":300,"y":970},{"panel":"d","line":"5","x":380,"y":805},{"panel":"d","line":"5","x":950,"y":450},{"panel":"d","line":"5","x":550,"y":915},{"panel":"d","line":"5","x":548,"y":1230},{"panel":"d","line":"5","x":670,"y":1305},{"panel":"d","line":"5","x":850,"y":1222},{"panel":"d","line":"5","x":975,"y":1330},{"panel":"d","line":"5","x":1090,"y":1450},
{"panel":"d","line":"6","x":1120,"y":730},{"panel":"d","line":"6","x":995,"y":825},{"panel":"d","line":"6","x":898,"y":712},{"panel":"d","line":"6","x":615,"y":965},{"panel":"d","line":"6","x":610,"y":1040},{"panel":"d","line":"6","x":780,"y":1110},{"panel":"d","line":"6","x":1222,"y":932},
{"panel":"d","line":"7","x":1295,"y":1165},{"panel":"d","line":"7","x":1050,"y":1272},{"panel":"d","line":"7","x":1055,"y":1290},
{"panel":"d","line":"8","x":705,"y":1418},{"panel":"d","line":"8","x":748,"y":1395},
{"panel":"d","line":"9","x":2246,"y":292},{"panel":"d","line":"9","x":2292,"y":305},{"panel":"d","line":"9","x":2429,"y":212},
{"panel":"d","line":"10","x":2189,"y":410},{"panel":"d","line":"10","x":2489,"y":520},{"panel":"d","line":"10","x":2649,"y":442},
{"panel":"d","line":"11","x":2169,"y":440},{"panel":"d","line":"11","x":2209,"y":668},{"panel":"d","line":"11","x":2079,"y":948},{"panel":"d","line":"11","x":1922,"y":942},
{"panel":"d","line":"12","x":2019,"y":750},{"panel":"d","line":"12","x":2007,"y":875},{"panel":"d","line":"12","x":1959,"y":875},
{"panel":"d","line":"13","x":2874,"y":672},{"panel":"d","line":"13","x":2694,"y":728},{"panel":"d","line":"13","x":2729,"y":1005},{"panel":"d","line":"13","x":2769,"y":1255},{"panel":"d","line":"13","x":2689,"y":1105},
{"panel":"d","line":"14","x":2634,"y":1005},{"panel":"d","line":"14","x":2594,"y":925},{"panel":"d","line":"14","x":2369,"y":838},{"panel":"d","line":"14","x":2284,"y":955},{"panel":"d","line":"14","x":2174,"y":1015},
{"panel":"d","line":"15","x":1867,"y":1055},{"panel":"d","line":"15","x":1894,"y":1120},
{"panel":"d","line":"16","x":1934,"y":1215},{"panel":"d","line":"16","x":1964,"y":1285},
{"panel":"d","line":"17","x":1984,"y":1100},{"panel":"d","line":"17","x":2026,"y":1240},{"panel":"d","line":"17","x":2034,"y":1385},
{"panel":"d","line":"18","x":2999,"y":945},{"panel":"d","line":"18","x":3069,"y":1260},
{"panel":"d","line":"19","x":2224,"y":1100},{"panel":"d","line":"19","x":2369,"y":1085},{"panel":"d","line":"19","x":2322,"y":1288},{"panel":"d","line":"19","x":2152,"y":1238},{"panel":"d","line":"19","x":2224,"y":1100},
{"panel":"d","label":"-0.4","x":200,"y":1003},{"panel":"d","label":"0.4","x":222,"y":1278},{"panel":"d","label":"-0.4","x":675,"y":1092},{"panel":"d","label":"0.4","x":832,"y":1412},{"panel":"d","label":"-0.4","x":1078,"y":1335},{"panel":"d","label":"-1.2","x":2062,"y":1045},{"panel":"d","label":"-1.2","x":1914,"y":1170},{"panel":"d","label":"-1.2","x":2739,"y":1055},
{"panel":"d","title":"Lean-back angle 6°","x":1639,"y":0},{"panel":"d","title":"Cw=0.012, 4P/90°","x":1607,"y":140},{"panel":"d","caption":"d","x":1611,"y":2330},

{"panel":"e","part":"e0","band":"-1","x":810,"y":110},{"panel":"e","part":"e0","band":"-1","x":238,"y":710},{"panel":"e","part":"e0","band":"-1","x":40,"y":1250},{"panel":"e","part":"e0","band":"-1","x":1068,"y":1515},{"panel":"e","part":"e0","band":"-1","x":1112,"y":1395},{"panel":"e","part":"e0","band":"-1","x":1135,"y":1330},{"panel":"e","part":"e0","band":"-1","x":1322,"y":1135},
{"panel":"e","part":"e1","band":"-1.4","x":810,"y":110},{"panel":"e","part":"e1","band":"-1.4","x":325,"y":622},{"panel":"e","part":"e1","band":"-1.4","x":580,"y":595},{"panel":"e","part":"e1","band":"-1.4","x":815,"y":585},{"panel":"e","part":"e1","band":"-1.4","x":640,"y":980},{"panel":"e","part":"e1","band":"-1.4","x":962,"y":855},{"panel":"e","part":"e1","band":"-1.4","x":1137,"y":882},{"panel":"e","part":"e1","band":"-1.4","x":1183,"y":855},
{"panel":"e","part":"e2","band":"-1.8","x":810,"y":110},{"panel":"e","part":"e2","band":"-1.8","x":565,"y":368},{"panel":"e","part":"e2","band":"-1.8","x":800,"y":368},{"panel":"e","part":"e2","band":"-1.8","x":918,"y":330},
{"panel":"e","part":"e3","band":"-0.6","x":92,"y":1115},{"panel":"e","part":"e3","band":"-0.6","x":365,"y":850},{"panel":"e","part":"e3","band":"-0.6","x":405,"y":1190},{"panel":"e","part":"e3","band":"-0.6","x":555,"y":1195},{"panel":"e","part":"e3","band":"-0.6","x":630,"y":1403},{"panel":"e","part":"e3","band":"-0.6","x":40,"y":1250},
{"panel":"e","part":"e4","band":"-0.6","x":1203,"y":900},{"panel":"e","part":"e4","band":"-0.6","x":1030,"y":1005},{"panel":"e","part":"e4","band":"-0.6","x":950,"y":1045},{"panel":"e","part":"e4","band":"-0.6","x":780,"y":1088},{"panel":"e","part":"e4","band":"-0.6","x":635,"y":1400},{"panel":"e","part":"e4","band":"-0.6","x":1068,"y":1515},{"panel":"e","part":"e4","band":"-0.6","x":1135,"y":1330},{"panel":"e","part":"e4","band":"-0.6","x":1322,"y":1135},
{"panel":"e","part":"e5","band":"-0.2","x":1225,"y":945},{"panel":"e","part":"e5","band":"-0.2","x":1135,"y":1005},{"panel":"e","part":"e5","band":"-0.2","x":980,"y":1110},{"panel":"e","part":"e5","band":"-0.2","x":890,"y":1165},{"panel":"e","part":"e5","band":"-0.2","x":725,"y":1425},{"panel":"e","part":"e5","band":"-0.2","x":1068,"y":1515},{"panel":"e","part":"e5","band":"-0.2","x":1112,"y":1395},{"panel":"e","part":"e5","band":"-0.2","x":1135,"y":1330},{"panel":"e","part":"e5","band":"-0.2","x":1322,"y":1135},
{"panel":"e","part":"e6","band":"0.2","x":1135,"y":1108},{"panel":"e","part":"e6","band":"0.2","x":985,"y":1235},{"panel":"e","part":"e6","band":"0.2","x":990,"y":1275},{"panel":"e","part":"e6","band":"0.2","x":1105,"y":1412},{"panel":"e","part":"e6","band":"0.2","x":1135,"y":1330},{"panel":"e","part":"e6","band":"0.2","x":1245,"y":1220},
{"panel":"e","part":"e7","band":"-0.6","x":910,"y":1470},{"panel":"e","part":"e7","band":"-0.6","x":1075,"y":1492},{"panel":"e","part":"e7","band":"-0.6","x":1068,"y":1515},
{"panel":"e","part":"e8","band":"-1","x":2334,"y":110},{"panel":"e","part":"e8","band":"-1","x":2906,"y":710},{"panel":"e","part":"e8","band":"-1","x":3104,"y":1250},{"panel":"e","part":"e8","band":"-1","x":2076,"y":1515},{"panel":"e","part":"e8","band":"-1","x":2032,"y":1395},{"panel":"e","part":"e8","band":"-1","x":2009,"y":1330},{"panel":"e","part":"e8","band":"-1","x":1822,"y":1135},
{"panel":"e","part":"e9","band":"-0.6","x":1964,"y":858},{"panel":"e","part":"e9","band":"-0.6","x":2254,"y":1170},{"panel":"e","part":"e9","band":"-0.6","x":2281,"y":1185},{"panel":"e","part":"e9","band":"-0.6","x":2362,"y":1095},{"panel":"e","part":"e9","band":"-0.6","x":2396,"y":875},{"panel":"e","part":"e9","band":"-0.6","x":2646,"y":935},{"panel":"e","part":"e9","band":"-0.6","x":2762,"y":805},{"panel":"e","part":"e9","band":"-0.6","x":3092,"y":1255},{"panel":"e","part":"e9","band":"-0.6","x":2076,"y":1515},{"panel":"e","part":"e9","band":"-0.6","x":2032,"y":1395},{"panel":"e","part":"e9","band":"-0.6","x":2009,"y":1330},{"panel":"e","part":"e9","band":"-0.6","x":1822,"y":1135},
{"panel":"e","part":"e10","band":"-0.2","x":1924,"y":940},{"panel":"e","part":"e10","band":"-0.2","x":2152,"y":1228},{"panel":"e","part":"e10","band":"-0.2","x":2336,"y":1325},{"panel":"e","part":"e10","band":"-0.2","x":2444,"y":1290},{"panel":"e","part":"e10","band":"-0.2","x":2649,"y":1290},{"panel":"e","part":"e10","band":"-0.2","x":2734,"y":1170},{"panel":"e","part":"e10","band":"-0.2","x":2909,"y":1192},{"panel":"e","part":"e10","band":"-0.2","x":2972,"y":1285},{"panel":"e","part":"e10","band":"-0.2","x":2076,"y":1515},{"panel":"e","part":"e10","band":"-0.2","x":2032,"y":1395},{"panel":"e","part":"e10","band":"-0.2","x":2009,"y":1330},{"panel":"e","part":"e10","band":"-0.2","x":1822,"y":1135},
{"panel":"e","part":"e11","band":"0.2","x":2039,"y":1408},{"panel":"e","part":"e11","band":"0.2","x":2189,"y":1482},{"panel":"e","part":"e11","band":"0.2","x":2076,"y":1515},
{"panel":"e","part":"e12","band":"-1.4","x":2324,"y":130},{"panel":"e","part":"e12","band":"-1.4","x":2569,"y":605},{"panel":"e","part":"e12","band":"-1.4","x":2409,"y":665},{"panel":"e","part":"e12","band":"-1.4","x":2264,"y":620},{"panel":"e","part":"e12","band":"-1.4","x":2116,"y":555},
{"panel":"e","part":"e13","band":"-1.8","x":2282,"y":222},{"panel":"e","part":"e13","band":"-1.8","x":2376,"y":403},{"panel":"e","part":"e13","band":"-1.8","x":2189,"y":400},
{"panel":"e","part":"e14","band":"-1.4","x":2804,"y":632},{"panel":"e","part":"e14","band":"-1.4","x":2952,"y":828},{"panel":"e","part":"e14","band":"-1.4","x":2929,"y":770},{"panel":"e","part":"e14","band":"-1.4","x":2906,"y":710},{"panel":"e","part":"e14","band":"-1.4","x":2824,"y":625},
{"panel":"e","line":"1","x":565,"y":368},{"panel":"e","line":"1","x":800,"y":368},{"panel":"e","line":"1","x":918,"y":330},
{"panel":"e","line":"2","x":325,"y":622},{"panel":"e","line":"2","x":580,"y":595},{"panel":"e","line":"2","x":815,"y":585},{"panel":"e","line":"2","x":640,"y":980},{"panel":"e","line":"2","x":962,"y":855},{"panel":"e","line":"2","x":1137,"y":882},{"panel":"e","line":"2","x":1183,"y":855},
{"panel":"e","line":"3","x":92,"y":1115},{"panel":"e","line":"3","x":365,"y":850},{"panel":"e","line":"3","x":405,"y":1190},{"panel":"e","line":"3","x":555,"y":1195},{"panel":"e","line":"3","x":630,"y":1403},
{"panel":"e","line":"4","x":1203,"y":900},{"panel":"e","line":"4","x":1030,"y":1005},{"panel":"e","line":"4","x":950,"y":1045},{"panel":"e","line":"4","x":780,"y":1088},{"panel":"e","line":"4","x":635,"y":1400},
{"panel":"e","line":"5","x":1225,"y":945},{"panel":"e","line":"5","x":1135,"y":1005},{"panel":"e","line":"5","x":980,"y":1110},{"panel":"e","line":"5","x":890,"y":1165},{"panel":"e","line":"5","x":725,"y":1425},
{"panel":"e","line":"6","x":1245,"y":1220},{"panel":"e","line":"6","x":1135,"y":1108},{"panel":"e","line":"6","x":985,"y":1235},{"panel":"e","line":"6","x":990,"y":1275},{"panel":"e","line":"6","x":1105,"y":1412},
{"panel":"e","line":"7","x":910,"y":1468},{"panel":"e","line":"7","x":1075,"y":1492},
{"panel":"e","line":"8","x":2324,"y":130},{"panel":"e","line":"8","x":2569,"y":605},{"panel":"e","line":"8","x":2409,"y":665},{"panel":"e","line":"8","x":2364,"y":650},
{"panel":"e","line":"9","x":2116,"y":555},{"panel":"e","line":"9","x":2154,"y":570},
{"panel":"e","line":"10","x":2282,"y":222},{"panel":"e","line":"10","x":2376,"y":403},{"panel":"e","line":"10","x":2189,"y":400},
{"panel":"e","line":"11","x":2642,"y":435},{"panel":"e","line":"11","x":2729,"y":530},
{"panel":"e","line":"12","x":2799,"y":630},{"panel":"e","line":"12","x":2952,"y":828},
{"panel":"e","line":"13","x":1964,"y":858},{"panel":"e","line":"13","x":2254,"y":1170},{"panel":"e","line":"13","x":2281,"y":1185},{"panel":"e","line":"13","x":2362,"y":1095},{"panel":"e","line":"13","x":2396,"y":875},{"panel":"e","line":"13","x":2646,"y":935},{"panel":"e","line":"13","x":2762,"y":805},{"panel":"e","line":"13","x":3092,"y":1255},
{"panel":"e","line":"14","x":1924,"y":940},{"panel":"e","line":"14","x":2152,"y":1228},{"panel":"e","line":"14","x":2336,"y":1325},{"panel":"e","line":"14","x":2444,"y":1290},
{"panel":"e","line":"15","x":2649,"y":1290},{"panel":"e","line":"15","x":2734,"y":1170},{"panel":"e","line":"15","x":2909,"y":1192},{"panel":"e","line":"15","x":2972,"y":1285},
{"panel":"e","line":"16","x":2039,"y":1408},{"panel":"e","line":"16","x":2189,"y":1482},
{"panel":"e","label":"-1.2","x":730,"y":783},{"panel":"e","label":"-0.4","x":1060,"y":1058},{"panel":"e","label":"-1.2","x":2262,"y":610},{"panel":"e","label":"-1.2","x":2756,"y":580},{"panel":"e","label":"-0.4","x":2549,"y":1300},
{"panel":"e","title":"Lean-back angle 7°","x":1639,"y":0},{"panel":"e","title":"Cw=0.015, 4P/60°","x":1607,"y":140},{"panel":"e","caption":"e","x":1611,"y":2330},

{"panel":"f","part":"f0","band":"-1","x":810,"y":110},{"panel":"f","part":"f0","band":"-1","x":238,"y":710},{"panel":"f","part":"f0","band":"-1","x":40,"y":1250},{"panel":"f","part":"f0","band":"-1","x":1068,"y":1515},{"panel":"f","part":"f0","band":"-1","x":1112,"y":1395},{"panel":"f","part":"f0","band":"-1","x":1135,"y":1330},{"panel":"f","part":"f0","band":"-1","x":1322,"y":1135},
{"panel":"f","part":"f1","band":"-1.4","x":382,"y":560},{"panel":"f","part":"f1","band":"-1.4","x":238,"y":710},{"panel":"f","part":"f1","band":"-1.4","x":172,"y":895},{"panel":"f","part":"f1","band":"-1.4","x":278,"y":738},{"panel":"f","part":"f1","band":"-1.4","x":505,"y":672},{"panel":"f","part":"f1","band":"-1.4","x":680,"y":735},{"panel":"f","part":"f1","band":"-1.4","x":555,"y":925},{"panel":"f","part":"f1","band":"-1.4","x":605,"y":1078},{"panel":"f","part":"f1","band":"-1.4","x":680,"y":1010},{"panel":"f","part":"f1","band":"-1.4","x":970,"y":845},{"panel":"f","part":"f1","band":"-1.4","x":1180,"y":850},{"panel":"f","part":"f1","band":"-1.4","x":932,"y":352},{"panel":"f","part":"f1","band":"-1.4","x":735,"y":435},
{"panel":"f","part":"f2","band":"-1.8","x":568,"y":365},{"panel":"f","part":"f2","band":"-1.8","x":382,"y":560},{"panel":"f","part":"f2","band":"-1.8","x":735,"y":435},{"panel":"f","part":"f2","band":"-1.8","x":932,"y":352},{"panel":"f","part":"f2","band":"-1.8","x":878,"y":248},
{"panel":"f","part":"f3","band":"-2.2","x":810,"y":110},{"panel":"f","part":"f3","band":"-2.2","x":568,"y":365},{"panel":"f","part":"f3","band":"-2.2","x":878,"y":248},
{"panel":"f","part":"f4","band":"-0.6","x":358,"y":1330},{"panel":"f","part":"f4","band":"-0.6","x":540,"y":1250},{"panel":"f","part":"f4","band":"-0.6","x":750,"y":1065},{"panel":"f","part":"f4","band":"-0.6","x":810,"y":1025},{"panel":"f","part":"f4","band":"-0.6","x":1060,"y":965},{"panel":"f","part":"f4","band":"-0.6","x":1198,"y":882},{"panel":"f","part":"f4","band":"-0.6","x":1322,"y":1135},{"panel":"f","part":"f4","band":"-0.6","x":1135,"y":1330},{"panel":"f","part":"f4","band":"-0.6","x":1068,"y":1515},
{"panel":"f","part":"f5","band":"-0.2","x":690,"y":1415},{"panel":"f","part":"f5","band":"-0.2","x":845,"y":1128},{"panel":"f","part":"f5","band":"-0.2","x":920,"y":1108},{"panel":"f","part":"f5","band":"-0.2","x":1220,"y":930},{"panel":"f","part":"f5","band":"-0.2","x":1322,"y":1135},{"panel":"f","part":"f5","band":"-0.2","x":1135,"y":1330},{"panel":"f","part":"f5","band":"-0.2","x":1112,"y":1395},{"panel":"f","part":"f5","band":"-0.2","x":1068,"y":1515},
{"panel":"f","part":"f6","band":"-0.6","x":972,"y":1222},{"panel":"f","part":"f6","band":"-0.6","x":1025,"y":1220},{"panel":"f","part":"f6","band":"-0.6","x":1030,"y":1262},{"panel":"f","part":"f6","band":"-0.6","x":995,"y":1262},
{"panel":"f","part":"f7","band":"0.2","x":1240,"y":978},{"panel":"f","part":"f7","band":"0.2","x":1208,"y":1025},{"panel":"f","part":"f7","band":"0.2","x":1288,"y":1060},
{"panel":"f","part":"f8","band":"0.2","x":838,"y":1452},{"panel":"f","part":"f8","band":"0.2","x":920,"y":1458},{"panel":"f","part":"f8","band":"0.2","x":945,"y":1482},
{"panel":"f","part":"f9","band":"-0.6","x":2334,"y":110},{"panel":"f","part":"f9","band":"-0.6","x":2906,"y":710},{"panel":"f","part":"f9","band":"-0.6","x":3104,"y":1250},{"panel":"f","part":"f9","band":"-0.6","x":2076,"y":1515},{"panel":"f","part":"f9","band":"-0.6","x":2032,"y":1395},{"panel":"f","part":"f9","band":"-0.6","x":2009,"y":1330},{"panel":"f","part":"f9","band":"-0.6","x":1822,"y":1135},
{"panel":"f","part":"f10","band":"-1","x":2334,"y":110},{"panel":"f","part":"f10","band":"-1","x":2906,"y":710},{"panel":"f","part":"f10","band":"-1","x":3006,"y":970},{"panel":"f","part":"f10","band":"-1","x":2872,"y":738},{"panel":"f","part":"f10","band":"-1","x":2624,"y":655},{"panel":"f","part":"f10","band":"-1","x":2524,"y":600},{"panel":"f","part":"f10","band":"-1","x":2364,"y":510},{"panel":"f","part":"f10","band":"-1","x":2184,"y":415},
{"panel":"f","part":"f11","band":"-1.4","x":2307,"y":175},{"panel":"f","part":"f11","band":"-1.4","x":2372,"y":395},{"panel":"f","part":"f11","band":"-1.4","x":2244,"y":330},{"panel":"f","part":"f11","band":"-1.4","x":2279,"y":235},
{"panel":"f","part":"f12","band":"-1","x":2376,"y":1055},{"panel":"f","part":"f12","band":"-1","x":2399,"y":1068},{"panel":"f","part":"f12","band":"-1","x":2284,"y":1170},{"panel":"f","part":"f12","band":"-1","x":2257,"y":1165},{"panel":"f","part":"f12","band":"-1","x":2247,"y":1128},
{"panel":"f","part":"f13","band":"-0.2","x":1996,"y":795},{"panel":"f","part":"f13","band":"-0.2","x":2129,"y":1222},{"panel":"f","part":"f13","band":"-0.2","x":2109,"y":1272},{"panel":"f","part":"f13","band":"-0.2","x":2139,"y":1262},{"panel":"f","part":"f13","band":"-0.2","x":2349,"y":1328},{"panel":"f","part":"f13","band":"-0.2","x":2489,"y":1332},{"panel":"f","part":"f13","band":"-0.2","x":2652,"y":1368},{"panel":"f","part":"f13","band":"-0.2","x":2674,"y":1300},{"panel":"f","part":"f13","band":"-0.2","x":2709,"y":1205},{"panel":"f","part":"f13","band":"-0.2","x":2729,"y":1140},{"panel":"f","part":"f13","band":"-0.2","x":2836,"y":995},{"panel":"f","part":"f13","band":"-0.2","x":3019,"y":1272},{"panel":"f","part":"f13","band":"-0.2","x":2076,"y":1515},{"panel":"f","part":"f13","band":"-0.2","x":2032,"y":1395},{"panel":"f","part":"f13","band":"-0.2","x":2009,"y":1330},{"panel":"f","part":"f13","band":"-0.2","x":1822,"y":1135},
{"panel":"f","part":"f14","band":"0.2","x":1939,"y":915},{"panel":"f","part":"f14","band":"0.2","x":1997,"y":1085},{"panel":"f","part":"f14","band":"0.2","x":1954,"y":1268},{"panel":"f","part":"f14","band":"0.2","x":1822,"y":1135},
{"panel":"f","part":"f15","band":"0.6","x":1874,"y":1040},{"panel":"f","part":"f15","band":"0.6","x":1869,"y":1185},{"panel":"f","part":"f15","band":"0.6","x":1822,"y":1135},
{"panel":"f","part":"f16","band":"0.2","x":2032,"y":1385},{"panel":"f","part":"f16","band":"0.2","x":2209,"y":1418},{"panel":"f","part":"f16","band":"0.2","x":2316,"y":1452},{"panel":"f","part":"f16","band":"0.2","x":2076,"y":1515},
{"panel":"f","part":"f17","band":"0.6","x":2052,"y":1445},{"panel":"f","part":"f17","band":"0.6","x":2174,"y":1487},{"panel":"f","part":"f17","band":"0.6","x":2076,"y":1515},
{"panel":"f","line":"1","x":568,"y":365},{"panel":"f","line":"1","x":878,"y":248},
{"panel":"f","line":"2","x":382,"y":560},{"panel":"f","line":"2","x":735,"y":435},{"panel":"f","line":"2","x":932,"y":352},
{"panel":"f","line":"3","x":172,"y":895},{"panel":"f","line":"3","x":278,"y":738},{"panel":"f","line":"3","x":505,"y":672},
{"panel":"f","line":"4","x":680,"y":735},{"panel":"f","line":"4","x":555,"y":925},{"panel":"f","line":"4","x":605,"y":1078},{"panel":"f","line":"4","x":680,"y":1010},{"panel":"f","line":"4","x":970,"y":845},
{"panel":"f","line":"5","x":358,"y":1330},{"panel":"f","line":"5","x":540,"y":1250},{"panel":"f","line":"5","x":750,"y":1065},{"panel":"f","line":"5","x":810,"y":1025},{"panel":"f","line":"5","x":1060,"y":965},{"panel":"f","line":"5","x":1198,"y":882},
{"panel":"f","line":"6","x":690,"y":1415},{"panel":"f","line":"6","x":845,"y":1128},{"panel":"f","line":"6","x":920,"y":1108},{"panel":"f","line":"6","x":1220,"y":930},
{"panel":"f","line":"7","x":972,"y":1222},{"panel":"f","line":"7","x":1025,"y":1220},{"panel":"f","line":"7","x":1030,"y":1262},{"panel":"f","line":"7","x":995,"y":1262},{"panel":"f","line":"7","x":972,"y":1222},
{"panel":"f","line":"8","x":1240,"y":978},{"panel":"f","line":"8","x":1208,"y":1025},{"panel":"f","line":"8","x":1288,"y":1060},
{"panel":"f","line":"9","x":838,"y":1452},{"panel":"f","line":"9","x":920,"y":1458},{"panel":"f","line":"9","x":945,"y":1482},
{"panel":"f","line":"10","x":2307,"y":175},{"panel":"f","line":"10","x":2324,"y":235},
{"panel":"f","line":"11","x":2254,"y":335},{"panel":"f","line":"11","x":2372,"y":395},{"panel":"f","line":"11","x":2354,"y":330},
{"panel":"f","line":"12","x":2184,"y":415},{"panel":"f","line":"12","x":2364,"y":510},{"panel":"f","line":"12","x":2524,"y":600},{"panel":"f","line":"12","x":2624,"y":655},{"panel":"f","line":"12","x":2872,"y":738},{"panel":"f","line":"12","x":3006,"y":970},
{"panel":"f","line":"13","x":2376,"y":1055},{"panel":"f","line":"13","x":2399,"y":1068},{"panel":"f","line":"13","x":2284,"y":1170},{"panel":"f","line":"13","x":2257,"y":1165},{"panel":"f","line":"13","x":2247,"y":1128},{"panel":"f","line":"13","x":2376,"y":1055},
{"panel":"f","line":"14","x":1996,"y":795},{"panel":"f","line":"14","x":2129,"y":1222},{"panel":"f","line":"14","x":2109,"y":1272},{"panel":"f","line":"14","x":2139,"y":1262},
{"panel":"f","line":"15","x":2349,"y":1328},{"panel":"f","line":"15","x":2489,"y":1332},{"panel":"f","line":"15","x":2652,"y":1368},{"panel":"f","line":"15","x":2674,"y":1300},
{"panel":"f","line":"16","x":2709,"y":1205},{"panel":"f","line":"16","x":2729,"y":1140},{"panel":"f","line":"16","x":2836,"y":995},{"panel":"f","line":"16","x":3019,"y":1272},
{"panel":"f","line":"17","x":1939,"y":915},{"panel":"f","line":"17","x":1997,"y":1085},{"panel":"f","line":"17","x":1954,"y":1268},
{"panel":"f","line":"18","x":1874,"y":1040},{"panel":"f","line":"18","x":1869,"y":1185},
{"panel":"f","line":"19","x":2032,"y":1385},{"panel":"f","line":"19","x":2209,"y":1418},{"panel":"f","line":"19","x":2316,"y":1452},
{"panel":"f","line":"20","x":2052,"y":1445},{"panel":"f","line":"20","x":2174,"y":1487},
{"panel":"f","label":"-1.2","x":612,"y":683},{"panel":"f","label":"-1.2","x":1072,"y":825},{"panel":"f","label":"-1.2","x":2339,"y":285},{"panel":"f","label":"-0.4","x":2244,"y":1295},{"panel":"f","label":"-0.4","x":2692,"y":1258},
{"panel":"f","title":"Lean-back angle 7°","x":1639,"y":0},{"panel":"f","title":"Cw=0.015, 4P/90°","x":1607,"y":140},{"panel":"f","caption":"f","x":1611,"y":2330}
]},
"facet":{"field":"panel","type":"nominal","title":null,"header":{"title":null,"labels":false,"labelColor":"transparent","titleColor":"transparent"}},
"spec":{"width":1700,"height":1263,
"encoding":{"x":{"field":"x","type":"quantitative","axis":null,"scale":{"domain":[-9.8,3322.2],"nice":false,"zero":false}},"y":{"field":"y","type":"quantitative","axis":null,"scale":{"domain":[2441.5,-309.3],"nice":false,"zero":false}}},
"layer":[
{"data":{"values":[{"id":"top","x":-10,"y":-309},{"id":"top","x":3234,"y":-309},{"id":"left","x":-8,"y":-309},{"id":"left","x":-8,"y":2193}]},"mark":{"type":"line","stroke":"#cccccc","strokeWidth":3},"encoding":{"detail":{"field":"id"}}},
{"transform":[{"filter":"datum.band != null"},{"window":[{"op":"row_number","as":"seq"}],"groupby":["panel"]}],"mark":{"type":"line","stroke":"transparent","strokeWidth":0},"encoding":{"fill":{"field":"band","type":"nominal","legend":null,"scale":{"domain":["-2.2","-1.8","-1.4","-1","-0.6","-0.2","0.2","0.6","1","1.4","1.8","2.2"],"range":["#0000ff","#0055ff","#00b4ff","#00ffea","#00ff80","#00ff2a","#2aff00","#80ff00","#eaff00","#ffb400","#ff5a00","#ff0000"]}},"detail":{"field":"part"},"order":{"field":"seq"}}},
{"data":{"values":[
{"grid":"g1","x":890,"y":280},{"grid":"g1","x":385,"y":810},{"grid":"g1","x":205,"y":1285},
{"grid":"g2","x":965,"y":430},{"grid":"g2","x":515,"y":900},{"grid":"g2","x":355,"y":1320},
{"grid":"g3","x":1035,"y":570},{"grid":"g3","x":635,"y":985},{"grid":"g3","x":500,"y":1350},
{"grid":"g4","x":1120,"y":715},{"grid":"g4","x":750,"y":1070},{"grid":"g4","x":635,"y":1390},
{"grid":"g5","x":1190,"y":860},{"grid":"g5","x":870,"y":1155},{"grid":"g5","x":775,"y":1420},
{"grid":"g6","x":1255,"y":1000},{"grid":"g6","x":995,"y":1260},{"grid":"g6","x":915,"y":1465},
{"grid":"g7","x":238,"y":710},{"grid":"g7","x":385,"y":810},{"grid":"g7","x":515,"y":900},{"grid":"g7","x":635,"y":985},{"grid":"g7","x":750,"y":1070},{"grid":"g7","x":870,"y":1155},{"grid":"g7","x":995,"y":1260},{"grid":"g7","x":1135,"y":1330},
{"grid":"g8","x":810,"y":110},{"grid":"g8","x":238,"y":710},{"grid":"g8","x":40,"y":1250},{"grid":"g8","x":1068,"y":1515},{"grid":"g8","x":1112,"y":1395},{"grid":"g8","x":1135,"y":1330},{"grid":"g8","x":1322,"y":1135},{"grid":"g8","x":810,"y":110},
{"grid":"h1","x":2254,"y":280},{"grid":"h1","x":2759,"y":810},{"grid":"h1","x":2939,"y":1285},
{"grid":"h2","x":2179,"y":430},{"grid":"h2","x":2629,"y":900},{"grid":"h2","x":2789,"y":1320},
{"grid":"h3","x":2109,"y":570},{"grid":"h3","x":2509,"y":985},{"grid":"h3","x":2644,"y":1350},
{"grid":"h4","x":2024,"y":715},{"grid":"h4","x":2394,"y":1070},{"grid":"h4","x":2509,"y":1390},
{"grid":"h5","x":1954,"y":860},{"grid":"h5","x":2274,"y":1155},{"grid":"h5","x":2369,"y":1420},
{"grid":"h6","x":1889,"y":1000},{"grid":"h6","x":2149,"y":1260},{"grid":"h6","x":2229,"y":1465},
{"grid":"h7","x":2906,"y":710},{"grid":"h7","x":2759,"y":810},{"grid":"h7","x":2629,"y":900},{"grid":"h7","x":2509,"y":985},{"grid":"h7","x":2394,"y":1070},{"grid":"h7","x":2274,"y":1155},{"grid":"h7","x":2149,"y":1260},{"grid":"h7","x":2009,"y":1330},
{"grid":"h8","x":2334,"y":110},{"grid":"h8","x":2906,"y":710},{"grid":"h8","x":3104,"y":1250},{"grid":"h8","x":2076,"y":1515},{"grid":"h8","x":2032,"y":1395},{"grid":"h8","x":2009,"y":1330},{"grid":"h8","x":1822,"y":1135},{"grid":"h8","x":2334,"y":110}
]},"transform":[{"window":[{"op":"row_number","as":"seq"}],"groupby":["grid"]}],"mark":{"type":"line","stroke":"#04402c","strokeWidth":1.6,"strokeDash":[2,4],"opacity":0.85},"encoding":{"detail":{"field":"grid"},"order":{"field":"seq"}}},
{"transform":[{"filter":"datum.line != null"},{"window":[{"op":"row_number","as":"seq"}],"groupby":["panel"]}],"mark":{"type":"line","stroke":"black","strokeWidth":4,"strokeJoin":"miter"},"encoding":{"detail":{"field":"line"},"order":{"field":"seq"}}},
{"transform":[{"filter":"datum.label != null && datum.label != '0.4'"}],"mark":{"type":"rect","color":"white","width":102,"height":44}},
{"transform":[{"filter":"datum.label == '0.4'"}],"mark":{"type":"rect","color":"white","width":84,"height":44}},
{"transform":[{"filter":"datum.label != null"}],"mark":{"type":"text","font":"Liberation Sans","fontSize":54,"baseline":"middle","color":"black"},"encoding":{"text":{"field":"label"}}},
{"transform":[{"filter":"datum.title != null"}],"mark":{"type":"text","font":"Liberation Mono","fontSize":54,"baseline":"middle","color":"black"},"encoding":{"text":{"field":"title"}}},
{"transform":[{"filter":"datum.caption != null"}],"mark":{"type":"text","font":"Liberation Serif","fontSize":76,"fontWeight":"bold","baseline":"middle","color":"black"},"encoding":{"text":{"field":"caption"}}},
{"data":{"values":[{"t":"(","x":1551,"y":2330},{"t":")","x":1671,"y":2330}]},"mark":{"type":"text","font":"Liberation Serif","fontSize":76,"baseline":"middle","color":"black"},"encoding":{"text":{"field":"t"}}},
{"data":{"values":[{"t":"225°","x":855,"y":55},{"t":"270°","x":195,"y":630},{"t":"300°","x":118,"y":1355},{"t":"135°","x":2429,"y":78},{"t":"90°","x":2989,"y":680},{"t":"60°","x":3149,"y":1135},{"t":"0°","x":3044,"y":1325},{"t":"-70°","x":2149,"y":1568}]},"mark":{"type":"text","font":"Liberation Sans","fontSize":44,"baseline":"middle","color":"black"},"encoding":{"text":{"field":"t"}}},
{"data":{"values":[{"x":468,"x2":2599,"y":1668,"y2":1954}]},"mark":{"type":"rect","fill":"white","stroke":"black","strokeWidth":2.5},"encoding":{"x2":{"field":"x2"},"y2":{"field":"y2"}}},
{"data":{"values":[{"x":723,"x2":808,"band":"-2.2","y":1692,"y2":1823},{"x":808,"x2":966,"band":"-1.8","y":1692,"y2":1823},{"x":966,"x2":1133,"band":"-1.4","y":1692,"y2":1823},{"x":1133,"x2":1296,"band":"-1","y":1692,"y2":1823},{"x":1296,"x2":1458,"band":"-0.6","y":1692,"y2":1823},{"x":1458,"x2":1621,"band":"-0.2","y":1692,"y2":1823},{"x":1621,"x2":1784,"band":"0.2","y":1692,"y2":1823},{"x":1784,"x2":1946,"band":"0.6","y":1692,"y2":1823},{"x":1946,"x2":2111,"band":"1","y":1692,"y2":1823},{"x":2111,"x2":2274,"band":"1.4","y":1692,"y2":1823},{"x":2274,"x2":2436,"band":"1.8","y":1692,"y2":1823},{"x":2436,"x2":2515,"band":"2.2","y":1692,"y2":1823}]},"mark":{"type":"rect"},"encoding":{"x2":{"field":"x2"},"y2":{"field":"y2"},"fill":{"field":"band","type":"nominal","legend":null,"scale":{"domain":["-2.2","-1.8","-1.4","-1","-0.6","-0.2","0.2","0.6","1","1.4","1.8","2.2"],"range":["#0000ff","#0055ff","#00b4ff","#00ffea","#00ff80","#00ff2a","#2aff00","#80ff00","#eaff00","#ffb400","#ff5a00","#ff0000"]}}}},
{"data":{"values":[{"x":723,"x2":2515,"y":1692,"y2":1823}]},"mark":{"type":"rect","fill":"transparent","stroke":"black","strokeWidth":1.5},"encoding":{"x2":{"field":"x2"},"y2":{"field":"y2"}}},
{"data":{"values":[{"x":808,"y":1692,"y2":1823},{"x":1133,"y":1692,"y2":1823},{"x":1458,"y":1692,"y2":1823},{"x":1784,"y":1692,"y2":1823},{"x":2111,"y":1692,"y2":1823},{"x":2436,"y":1692,"y2":1823}]},"mark":{"type":"rule","stroke":"black","strokeWidth":1.5},"encoding":{"y2":{"field":"y2"}}},
{"data":{"values":[{"t":"-2","x":808,"y":1893},{"t":"-1.2","x":1133,"y":1893},{"t":"-0.4","x":1458,"y":1893},{"t":"0.4","x":1784,"y":1893},{"t":"1.2","x":2111,"y":1893},{"t":"2","x":2436,"y":1893},{"t":"dB:","x":619,"y":1893}]},"mark":{"type":"text","font":"Liberation Sans","fontSize":36,"baseline":"middle","color":"#111111"},"encoding":{"text":{"field":"t"}}}
]}}
